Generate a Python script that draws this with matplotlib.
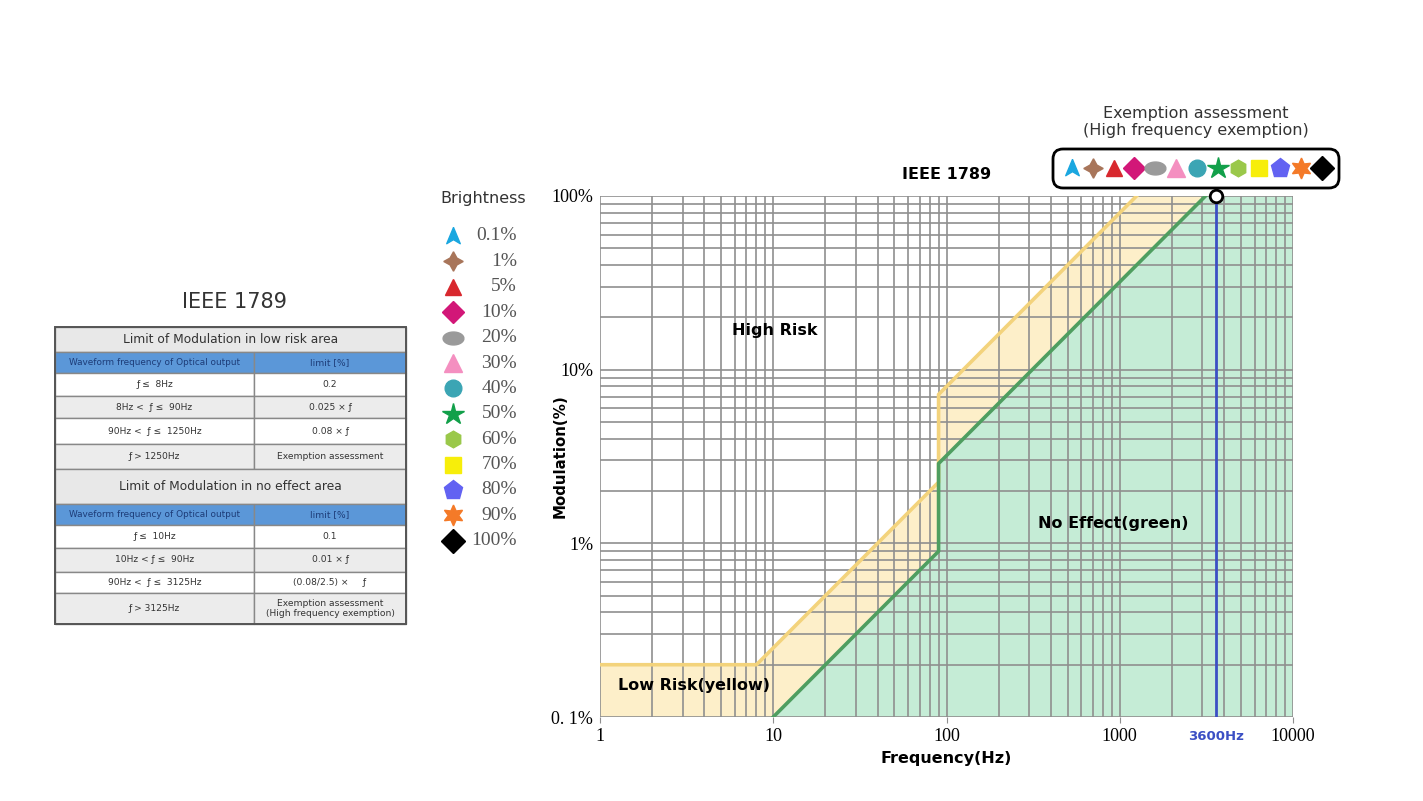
import numpy as np
import matplotlib
matplotlib.use("Agg")
import matplotlib.pyplot as plt
from matplotlib.patches import Rectangle, FancyBboxPatch

# ---- data ----
yellow_f = [1, 8, 90, 90, 1250]
yellow_m = [0.2, 0.2, 2.25, 7.2, 100]
green_f = [10, 90, 90, 3125]
green_m = [0.1, 0.9, 2.88, 100]
marker_freq = 3600

bright_labels = ["0.1%", "1%", "5%", "10%", "20%", "30%", "40%", "50%",
                 "60%", "70%", "80%", "90%", "100%"]
arrow = [(0, 1), (0.75, -0.8), (0, -0.35), (-0.75, -0.8), (0, 1)]
tt = np.linspace(0, 2 * np.pi, 40)
ellipse = list(zip(np.cos(tt), 0.62 * np.sin(tt)))
bright_markers = [arrow, (4, 1, 0), "^", "D", ellipse, "^", "o", "*",
                  "h", "s", "p", (6, 1, 0), "D"]
bright_colors = ["#1aa7e0", "#a8755a", "#d8282e", "#d21778", "#9a9a9a",
                 "#f48fc0", "#3ba5b4", "#12a04a", "#9ac84a", "#f7ee0a",
                 "#6262f2", "#f47a28", "#000000"]
bright_sizes = [13, 14, 12, 11, 15, 13, 12, 16, 12, 11, 14, 15, 12]

low_rows = [("ƒ ≤  8Hz", "0.2"),
            ("8Hz <  ƒ ≤  90Hz", "0.025 × ƒ"),
            ("90Hz <  ƒ ≤  1250Hz", "0.08 × ƒ"),
            ("ƒ > 1250Hz", "Exemption assessment")]
no_rows = [("ƒ ≤  10Hz", "0.1"),
           ("10Hz < ƒ ≤  90Hz", "0.01 × ƒ"),
           ("90Hz <  ƒ ≤  3125Hz", "(0.08/2.5) ×     ƒ"),
           ("ƒ > 3125Hz", "Exemption assessment\n(High frequency exemption)")]

fig = plt.figure(figsize=(14.23, 8.01), dpi=100)

# ---- main chart ----
ax = fig.add_axes([600 / 1423, 1 - 717 / 801, 693 / 1423, 521 / 801])
ax.set_xscale("log")
ax.set_yscale("log")
ax.set_xlim(1, 10000)
ax.set_ylim(0.1, 100)

ylw_poly_x = yellow_f + [green_f[-1]] + green_f[::-1] + [1]
ylw_poly_y = yellow_m + [100] + green_m[::-1] + [0.1]
ax.fill(ylw_poly_x, ylw_poly_y, color="#fdefc9", zorder=1, lw=0)
grn_poly_x = green_f + [10000, 10000]
grn_poly_y = green_m + [100, 0.1]
ax.fill(grn_poly_x, grn_poly_y, color="#c5ecd6", zorder=1.1, lw=0)

ax.grid(True, which="both", color="#8f8f8f", lw=1.2, zorder=2)
ax.set_axisbelow(False)
for sp in ax.spines.values():
    sp.set_visible(False)

ax.plot(yellow_f, yellow_m, color="#f3d37c", lw=2.6, zorder=3)
ax.plot(green_f, green_m, color="#4f9e60", lw=2.6, zorder=3)
ax.plot([marker_freq, marker_freq], [0.1, 100], color="#3b4fc4", lw=2, zorder=4)
ax.plot([marker_freq], [100], marker="o", ms=9, mfc="white", mec="black",
        mew=2, zorder=6, clip_on=False)

ax.set_xticks([1, 10, 100, 1000, 10000])
ax.set_xticklabels(["1", "10", "100", "1000", "10000"], family="Liberation Serif", fontsize=13)
ax.set_yticks([0.1, 1, 10, 100])
ax.set_yticklabels(["0. 1%", "1%", "10%", "100%"], family="Liberation Serif", fontsize=13)
ax.tick_params(which="major", length=4, color="#8f8f8f", pad=4)
ax.tick_params(axis="y", which="major", length=0, pad=5)
ax.tick_params(which="minor", length=0)
ax.set_xlabel("Frequency(Hz)", fontsize=11.5, fontweight="bold", labelpad=4)
ax.set_ylabel("Modulation(%)", fontsize=10.8, fontweight="bold")
ax.yaxis.set_label_coords(-0.047, 0.5)
ax.set_title("IEEE 1789", fontsize=11.5, fontweight="bold", pad=12)
ax.annotate("3600Hz", xy=(marker_freq, 0.1), xytext=(0, -14), textcoords="offset points",
            color="#3b4fc4", fontsize=9.5, fontweight="bold", ha="center", va="center")

ax.text(10.2, 16.7, "High Risk", fontsize=11.5, fontweight="bold", ha="center", va="center", zorder=5)
ax.text(3.5, 0.151, "Low Risk(yellow)", fontsize=11.5, fontweight="bold", ha="center", va="center", zorder=5)
ax.text(914, 1.3, "No Effect(green)", fontsize=11.5, fontweight="bold", ha="center", va="center", zorder=5)

# ---- overlay in pixel coordinates ----
ov = fig.add_axes([0, 0, 1, 1], zorder=10)
ov.set_xlim(0, 1423)
ov.set_ylim(801, 0)
ov.axis("off")

# brightness legend
ov.text(483, 199, "Brightness", fontsize=11.5, color="#333333", ha="center", va="center")
for i, (lab, mk, col, sz) in enumerate(zip(bright_labels, bright_markers, bright_colors, bright_sizes)):
    yy = 236 + i * 25.4
    ov.plot(453, yy, marker=mk, color=col, ms=sz, mec=col, ls="none")
    ov.text(517, yy, lab, family="Liberation Serif", fontsize=14, color="#555555",
            ha="right", va="center")

# exemption callout
ov.text(1196, 122, "Exemption assessment\n(High frequency exemption)", fontsize=11.5,
        color="#333333", ha="center", va="center", linespacing=1.2)
box = FancyBboxPatch((1053, 149), 286, 39, boxstyle="round,pad=0,rounding_size=10",
                     fc="white", ec="black", lw=2)
ov.add_patch(box)
for i, (mk, col, sz) in enumerate(zip(bright_markers, bright_colors, bright_sizes)):
    ov.plot(1072 + i * 20.8, 168, marker=mk, color=col, ms=sz, mec=col, ls="none")

# table
ov.text(234, 302, "IEEE 1789", fontsize=15, color="#333333", ha="center", va="center")
x0, xm, x1 = 55, 254, 406
edges = [327, 352, 373, 396, 418, 444, 469, 504, 525, 548, 572, 593, 624]
blocks = [("Limit of Modulation in low risk area", low_rows),
          ("Limit of Modulation in no effect area", no_rows)]
k = 0
for title, rows in blocks:
    ta, tb = edges[k], edges[k + 1]
    ov.add_patch(Rectangle((x0, ta), x1 - x0, tb - ta, fc="#e8e8e8", ec="#888888", lw=1))
    ov.text((x0 + x1) / 2, (ta + tb) / 2, title, fontsize=8.8, color="#333333", ha="center", va="center")
    ha_, hb = edges[k + 1], edges[k + 2]
    ov.add_patch(Rectangle((x0, ha_), xm - x0, hb - ha_, fc="#5b97d8", ec="#888888", lw=1))
    ov.add_patch(Rectangle((xm, ha_), x1 - xm, hb - ha_, fc="#5b97d8", ec="#888888", lw=1))
    ov.text((x0 + xm) / 2, (ha_ + hb) / 2, "Waveform frequency of Optical output", fontsize=6.4,
            color="#1d3c78", ha="center", va="center")
    ov.text((xm + x1) / 2, (ha_ + hb) / 2, "limit [%]", fontsize=6.6,
            color="#1d3c78", ha="center", va="center")
    for j, (c1, c2) in enumerate(rows):
        ra, rb = edges[k + 2 + j], edges[k + 3 + j]
        fc = "#ffffff" if j % 2 == 0 else "#ececec"
        ov.add_patch(Rectangle((x0, ra), xm - x0, rb - ra, fc=fc, ec="#888888", lw=1))
        ov.add_patch(Rectangle((xm, ra), x1 - xm, rb - ra, fc=fc, ec="#888888", lw=1))
        ov.text((x0 + xm) / 2, (ra + rb) / 2, c1, fontsize=6.6, color="#333333", ha="center", va="center")
        ov.text((xm + x1) / 2, (ra + rb) / 2, c2, fontsize=6.6, color="#333333", ha="center", va="center",
                linespacing=1.0)
    k += 6
ov.add_patch(Rectangle((x0, edges[0]), x1 - x0, edges[-1] - edges[0], fc="none", ec="#555555", lw=1.4))

fig.savefig("out.png", dpi=100)
